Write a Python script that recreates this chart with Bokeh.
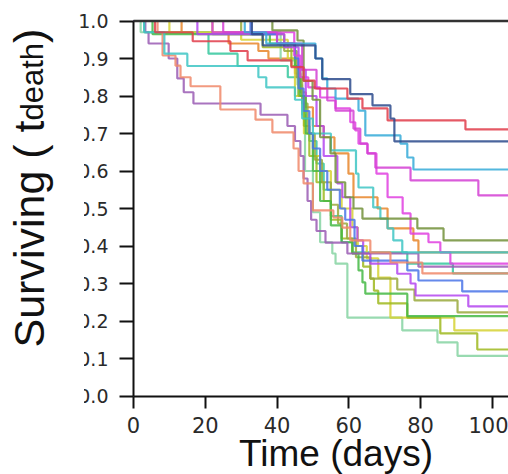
from math import pi
from bokeh.plotting import figure
from bokeh.models import Range1d, Label, BoxAnnotation, FixedTicker, PrintfTickFormatter
from bokeh.embed import file_html
from bokeh.resources import INLINE

# ---- data: survival step curves (time in days, fraction surviving) ----
red_t = [0, 6, 16.5, 27, 31.8, 44, 47.4, 50.5, 59.6, 63.8, 70.8, 92.5, 105]
red_s = [1.0, 0.97, 0.946, 0.92, 0.895, 0.877, 0.841, 0.82, 0.793, 0.767, 0.735, 0.711, 0.711]

navy_t = [0, 33, 36, 50.7, 52.6, 60.4, 66.6, 71.6, 72.7, 105]
navy_s = [1.0, 0.965, 0.935, 0.90, 0.845, 0.805, 0.775, 0.74, 0.679, 0.679]

sky_t = [0, 31, 37, 50.7, 52.6, 54, 56.3, 62.7, 64.6, 74.4, 76.3, 78, 105]
sky_s = [1.0, 0.97, 0.94, 0.90, 0.847, 0.82, 0.793, 0.761, 0.695, 0.673, 0.636, 0.604, 0.604]

mag_t = [0, 25, 40, 47, 51, 54, 56.3, 61.3, 63.2, 65.2, 67.4, 77.2, 96.1, 105]
mag_s = [1.0, 0.97, 0.94, 0.87, 0.82, 0.788, 0.761, 0.713, 0.673, 0.647, 0.609, 0.575, 0.535, 0.535]

mag2_t = [0, 22, 44.8, 46.5, 48.7, 52, 56.3, 60.4, 61.8, 62.7, 65.2, 67.7, 70.8, 75, 77.2, 82.2, 85.5, 88.3, 105]
mag2_s = [1.0, 0.97, 0.908, 0.85, 0.823, 0.796, 0.767, 0.73, 0.708, 0.673, 0.647, 0.593, 0.53, 0.487, 0.433, 0.41, 0.383, 0.353, 0.353]

olive_t = [0, 38.7, 45.7, 47.4, 49.9, 52, 54.9, 56.3, 59, 61.3, 63.8, 79.1, 86.4, 105]
olive_s = [1.0, 0.975, 0.948, 0.84, 0.79, 0.69, 0.647, 0.57, 0.53, 0.50, 0.473, 0.447, 0.415, 0.415]

teal_t = [0, 3, 8.6, 15, 34.8, 37, 45, 47, 50, 55, 62, 62.7, 66.8, 68.8, 70.8, 72.4, 74.9, 105]
teal_s = [1.0, 0.97, 0.913, 0.88, 0.85, 0.823, 0.79, 0.74, 0.70, 0.655, 0.593, 0.556, 0.503, 0.473, 0.447, 0.415, 0.383, 0.383]

turq_t = [0, 3, 20.9, 29, 43, 46, 47.5, 49, 51, 53, 55, 58, 61, 76.3, 89, 105]
turq_s = [1.0, 0.97, 0.913, 0.88, 0.85, 0.80, 0.74, 0.68, 0.62, 0.55, 0.48, 0.41, 0.383, 0.353, 0.327, 0.327]

orange_t = [0, 13.4, 26.5, 34.8, 37.6, 45, 46.5, 48, 50, 53, 56, 59.9, 61.3, 68, 70.8, 78, 79.4, 105]
orange_s = [1.0, 0.97, 0.94, 0.92, 0.90, 0.86, 0.81, 0.77, 0.72, 0.69, 0.647, 0.593, 0.53, 0.50, 0.447, 0.415, 0.383, 0.383]

salmon_t = [0, 6.7, 8.1, 11.7, 13.1, 15.9, 24.2, 34, 38.7, 44.6, 46, 47.4, 50, 55.7, 58.2, 60.4, 66, 71.6, 80.5, 105]
salmon_s = [1.0, 0.97, 0.908, 0.881, 0.85, 0.826, 0.764, 0.737, 0.703, 0.66, 0.60, 0.567, 0.495, 0.476, 0.449, 0.415, 0.383, 0.356, 0.327, 0.327]

purple_t = [0, 3.3, 4.2, 9.8, 12.2, 14, 16.7, 35.4, 42.9, 45, 46.5, 47.4, 48.5, 49.5, 51, 53.5, 59.6, 79.4, 105]
purple_s = [1.0, 0.97, 0.94, 0.90, 0.847, 0.81, 0.78, 0.75, 0.72, 0.68, 0.64, 0.58, 0.52, 0.47, 0.44, 0.409, 0.38, 0.345, 0.345]

blue_t = [0, 32.6, 40, 45, 46, 47.4, 49, 50, 52, 54, 57.5, 59, 61.6, 63.8, 76.3, 79.4, 91.6, 105]
blue_s = [1.0, 0.965, 0.94, 0.90, 0.82, 0.76, 0.70, 0.66, 0.60, 0.55, 0.50, 0.47, 0.40, 0.361, 0.335, 0.308, 0.279, 0.279]

violet_t = [0, 17.8, 42, 46, 48, 51, 53, 56.8, 58.2, 60.4, 62.4, 64, 66, 73.5, 77.2, 78.6, 93.3, 105]
violet_s = [1.0, 0.965, 0.93, 0.87, 0.80, 0.72, 0.64, 0.567, 0.53, 0.45, 0.415, 0.38, 0.353, 0.326, 0.30, 0.268, 0.239, 0.239]

green_t = [0, 5.3, 38, 45, 46.5, 48, 50, 52, 55, 58, 61, 62.7, 63.8, 64.6, 76.3, 105]
green_s = [1.0, 0.965, 0.94, 0.88, 0.80, 0.70, 0.60, 0.52, 0.455, 0.41, 0.38, 0.335, 0.303, 0.273, 0.213, 0.213]

yellow_t = [0, 10, 30, 43, 45, 47.5, 50, 52, 55, 58, 61, 62.5, 65, 68.2, 71.6, 89.4, 105]
yellow_s = [1.0, 0.97, 0.95, 0.90, 0.80, 0.70, 0.64, 0.60, 0.55, 0.50, 0.45, 0.40, 0.367, 0.316, 0.209, 0.175, 0.175]

lime_t = [0, 22, 36, 44, 46, 47.5, 49, 51, 53, 55, 58, 61, 64, 66, 67, 68.2, 76.3, 85.5, 95.8, 105]
lime_s = [1.0, 0.965, 0.93, 0.88, 0.80, 0.72, 0.64, 0.57, 0.52, 0.47, 0.42, 0.38, 0.345, 0.313, 0.281, 0.247, 0.209, 0.167, 0.124, 0.124]

drab_t = [0, 30, 42, 45.5, 47, 48.5, 50.5, 52.5, 55, 57, 59.5, 62, 66, 73.5, 78.3, 90.3, 105]
drab_s = [1.0, 0.965, 0.92, 0.85, 0.78, 0.70, 0.63, 0.57, 0.51, 0.46, 0.42, 0.37, 0.313, 0.284, 0.255, 0.223, 0.223]

mint_t = [0, 2, 41, 45.7, 47, 47.8, 50, 52, 55.4, 56.3, 59.6, 74.9, 84.7, 90.3, 105]
mint_s = [1.0, 0.97, 0.895, 0.83, 0.75, 0.60, 0.49, 0.41, 0.38, 0.353, 0.209, 0.175, 0.143, 0.107, 0.107]

frame_t = [0, 105]
frame_s = [1.0, 1.0]

x_ticks = [0, 20, 40, 60, 80, 100]
y_ticks = [0.0, 0.1, 0.2, 0.3, 0.4, 0.5, 0.6, 0.7, 0.8, 0.9, 1.0]
x_label = "Time (days)"
y_label_main = "Surviving ( t"
y_label_sub = "death"
y_label_end = ")"

curves = [
    (orange_t, orange_s, "#e8862a"),
    (turq_t, turq_s, "#35c79e"),
    (mint_t, mint_s, "#86d4a2"),
    (yellow_t, yellow_s, "#d6d234"),
    (lime_t, lime_s, "#9fb81f"),
    (drab_t, drab_s, "#99a93c"),
    (green_t, green_s, "#44b844"),
    (violet_t, violet_s, "#b446f0"),
    (blue_t, blue_s, "#4a74e8"),
    (purple_t, purple_s, "#9a5cb4"),
    (salmon_t, salmon_s, "#f0886a"),
    (mag2_t, mag2_s, "#e040e0"),
    (teal_t, teal_s, "#3ec6c4"),
    (olive_t, olive_s, "#72913a"),
    (mag_t, mag_s, "#d43fd4"),
    (sky_t, sky_s, "#35aad8"),
    (red_t, red_s, "#e03c4a"),
    (navy_t, navy_s, "#2b4a8c"),
]

# ---- geometry: the frame fills the canvas; plot area is 375x375 px at left=133, top=20.5 ----
W, H = 508, 474
PX_PER_DAY = 375.0 / 104.5
PX_PER_UNIT = 375.0
X0_PX, Y0_PX = 133.0, 395.5


def px_to_x(px):
    return (px - X0_PX) / PX_PER_DAY


def px_to_y(py):
    return (Y0_PX - py) / PX_PER_UNIT


p = figure(width=W, height=H, output_backend="svg", toolbar_location=None,
           x_range=Range1d(px_to_x(0), px_to_x(W)), y_range=Range1d(px_to_y(H), px_to_y(0)),
           min_border=0, min_border_left=0, min_border_right=0,
           min_border_top=0, min_border_bottom=0)
p.grid.visible = False
p.outline_line_color = None
p.background_fill_color = "white"
p.border_fill_color = "white"

for t, s, c in curves:
    p.step(t, s, mode="after", line_color=c, line_width=2.2, line_alpha=0.85)

# top frame line at 1.0
p.line(frame_t, frame_s, line_color="#333333", line_width=2.5)

p.xaxis.ticker = FixedTicker(ticks=x_ticks)
p.yaxis.ticker = FixedTicker(ticks=y_ticks)
p.xaxis.formatter = PrintfTickFormatter(format="%d")
p.yaxis.formatter = PrintfTickFormatter(format="%.1f")
p.xaxis.fixed_location = 0
p.yaxis.fixed_location = 0
p.xaxis.bounds = (0, 110)
p.yaxis.bounds = (0, 1)

for ax in (p.xaxis[0], p.yaxis[0]):
    ax.axis_line_color = "#111111"
    ax.axis_line_width = 2
    ax.major_tick_line_color = "#111111"
    ax.major_tick_line_width = 2
    ax.major_tick_in = 0
    ax.minor_tick_in = 0
    ax.minor_tick_out = 0
    ax.major_label_text_font = "DejaVu Sans"
    ax.major_label_text_color = "#2a2a2a"

p.xaxis.major_tick_out = 12
p.xaxis.major_label_text_font_size = "21px"
p.xaxis.major_label_standoff = 9
p.yaxis.major_tick_out = 14
p.yaxis.major_label_text_font_size = "19px"
p.yaxis.major_label_standoff = 11

# white strip that trims the leading digit of the lower tick labels
p.add_layout(BoxAnnotation(left=px_to_x(58), right=px_to_x(83.5), bottom=-0.06, top=0.955,
                           fill_color="white", fill_alpha=1.0, line_color=None))

p.add_layout(Label(x=px_to_x(335.5), y=px_to_y(452.5), text=x_label, text_align="center",
                   text_baseline="alphabetic", text_font="Liberation Sans",
                   text_font_size="37px", text_color="#111111"))

p.add_layout(Label(x=px_to_x(28), y=px_to_y(347), text=y_label_main, angle=pi / 2,
                   text_align="left", text_baseline="alphabetic", text_font="Liberation Sans",
                   text_font_size="43px", text_color="#111111"))
p.add_layout(Label(x=px_to_x(32), y=px_to_y(120), text=y_label_sub, angle=pi / 2,
                   text_align="left", text_baseline="alphabetic", text_font="Liberation Sans",
                   text_font_size="31px", text_color="#111111"))
p.add_layout(Label(x=px_to_x(28), y=px_to_y(42.4), text=y_label_end, angle=pi / 2,
                   text_align="left", text_baseline="alphabetic", text_font="Liberation Sans",
                   text_font_size="43px", text_color="#111111"))

open("out.html", "w").write(file_html(p, INLINE))
